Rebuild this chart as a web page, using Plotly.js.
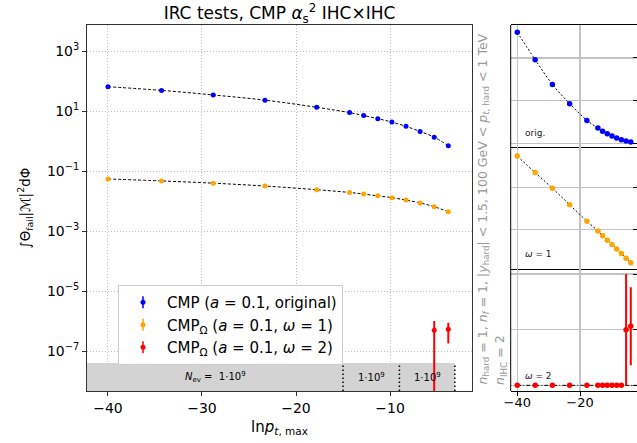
<!DOCTYPE html>
<html>
<head>
<meta charset="utf-8">
<script src="https://cdn.plot.ly/plotly-3.0.1.min.js"></script>
<style>html,body{margin:0;padding:0;background:#fff;}#plot{width:637px;height:443px;}</style>
</head>
<body>
<div id="plot"></div>
<script>
// ---- data ----
const lnpt = [-40, -34.3, -28.8, -23.3, -17.8, -14.3, -12.8, -11.3, -9.8, -8.3, -6.8, -5.3, -3.8];
const cmpOrig = [65, 49, 34.5, 23.2, 13.4, 8.9, 7.1, 5.6, 4.3, 3.1, 2.1, 1.35, 0.7];
const cmpOrigErr = [0, 0, 0, 0, 0, 0, 0, 0, 0, 0, 0, 0, 0];
const cmpW1 = [0.0548, 0.0470, 0.0396, 0.0318, 0.0240, 0.0194, 0.0171, 0.0150, 0.0130, 0.0108, 0.0087, 0.0065, 0.0044];
const cmpW1Err = [0, 0, 0, 0, 0, 0, 0, 0, 0, 0, 0, 0, 0];
const cmpW2 = [0, 0, 0, 0, 0, 0, 0, 0, 0, 0, 0, 5.0e-7, 5.3e-7];
const cmpW2Err = [0, 0, 0, 0, 0, 0, 0, 0, 0, 0, 0, 5.0e-7, 3.5e-7];
// fitted curves (dashed / dotted black lines)
const fitOrig = [65, 49, 34.5, 23.2, 13.4, 8.9, 7.1, 5.6, 4.3, 3.1, 2.1, 1.35, 0.7];
const fitW1 = [0.0548, 0.0470, 0.0396, 0.0318, 0.0240, 0.0194, 0.0171, 0.0150, 0.0130, 0.0108, 0.0087, 0.0065, 0.0044];
const fitW2X = [-40, -1.5];
const fitW2 = [0, 0];
const seriesNames = ['CMP (<i>a</i> = 0.1, original)', 'CMP<sub>Ω</sub> (<i>a</i> = 0.1, <i>ω</i> = 1)', 'CMP<sub>Ω</sub> (<i>a</i> = 0.1, <i>ω</i> = 2)'];
const panelLabels = ['orig.', '<i>ω</i> = 1', '<i>ω</i> = 2'];
const nevEdges = [-42.23, -15, -9, -3.1];
const nevLabels = ['<i>N</i><sub>ev</sub> =  1·10<sup>9</sup>', '1·10<sup>9</sup>', '1·10<sup>9</sup>'];
const mainXTicks = [-40, -30, -20, -10];
const mainYTicks = [1e-7, 1e-5, 1e-3, 1e-1, 1e1, 1e3];
const mainYTickText = ['10<sup>−7</sup>', '10<sup>−5</sup>', '10<sup>−3</sup>', '10<sup>−1</sup>', '10<sup>1</sup>', '10<sup>3</sup>'];
const sideXTicks = [-40, -20];
const captionLines = [
  '<i>n</i><sub>hard</sub> = 1, <i>n</i><sub><i>f</i></sub> = 1, |<i>y</i><sub>hard</sub>| &lt; 1.5, 100 GeV &lt; <i>p</i><sub><i>t</i>, hard</sub> &lt; 1 TeV',
  '<i>n</i><sub>IHC</sub> = 2'
];

const colors = ['#0000ff', '#ffa500', '#ff0000'];
const F = 'DejaVu Sans, sans-serif';
const minus = v => String(v).replace('-', '−');

const traces = [];
// main fit lines
[fitOrig, fitW1].forEach(ys => traces.push({
  x: lnpt, y: ys, mode: 'lines', xaxis: 'x', yaxis: 'y', showlegend: false, hoverinfo: 'skip',
  line: {color: '#000', dash: '3px,2px', width: 1, shape: 'spline'}
}));
// main markers with error bars
[[cmpOrig, cmpOrigErr], [cmpW1, cmpW1Err], [cmpW2, cmpW2Err]].forEach(([ys, es], i) => traces.push({
  x: lnpt, y: ys, mode: 'markers', xaxis: 'x', yaxis: 'y', name: seriesNames[i],
  marker: {color: colors[i], size: 5},
  error_y: {type: 'data', array: es, visible: true, color: colors[i], thickness: 2, width: 0}
}));
// side panels
const sideFits = [[lnpt, fitOrig, '2px,2px'], [lnpt, fitW1, '2px,2px'], [fitW2X, fitW2, '4px,2px,1px,2px']];
[[cmpOrig, cmpOrigErr], [cmpW1, cmpW1Err], [cmpW2, cmpW2Err]].forEach(([ys, es], i) => {
  const xa = 'x' + (i + 2), ya = 'y' + (i + 2);
  traces.push({x: sideFits[i][0], y: sideFits[i][1], mode: 'lines', xaxis: xa, yaxis: ya, showlegend: false, hoverinfo: 'skip',
    line: {color: '#000', dash: sideFits[i][2], width: 1, shape: 'spline'}});
  traces.push({x: lnpt, y: ys, mode: 'markers', xaxis: xa, yaxis: ya, showlegend: false,
    marker: {color: colors[i], size: 5.5},
    error_y: {type: 'data', array: es, visible: true, color: colors[i], thickness: 2, width: 0}});
});

const xMainDom = [87 / 637, 472 / 637];
const yMainDom = [1 - 391 / 443, 1 - 25 / 443];
const xSideDom = [510.7 / 637, 1];
const ySideDoms = [[1 - 147 / 443, 1 - 25 / 443], [1 - 269 / 443, 1 - 147 / 443], [1 - 391 / 443, 1 - 269 / 443]];
const ySideRanges = [[-2.2, 69.3], [0.0014, 0.0591], [-5.1e-8, 1.045e-6]];
const ySideTicks = [[0, 25, 50], [0.02, 0.04], [0, 5e-7, 1e-6]];

const layout = {
  width: 637, height: 443, margin: {l: 0, r: 0, t: 0, b: 0},
  paper_bgcolor: '#fff', plot_bgcolor: '#fff',
  font: {family: F, color: '#000'},
  title: {text: 'IRC tests, CMP <i>α</i><sub>s</sub><sup>2</sup> IHC×IHC', x: 279.5 / 637, xanchor: 'center', y: 1 - 13.5 / 443, yanchor: 'middle', font: {size: 17, family: F}},
  showlegend: true,
  legend: {x: 118 / 637, y: 1 - 285 / 443, xanchor: 'left', yanchor: 'top', bgcolor: 'rgba(255,255,255,0.85)', bordercolor: '#cccccc', borderwidth: 1, font: {size: 15, family: F}, itemwidth: 38},
  xaxis: {domain: xMainDom, anchor: 'y', range: [-42.23, -1.28], tickvals: mainXTicks, ticktext: mainXTicks.map(minus),
    ticks: 'outside', ticklen: 4, tickcolor: '#333', showline: true, mirror: true, linecolor: '#333', linewidth: 1,
    showgrid: true, gridcolor: '#bdbdbd', griddash: '1px,2px', gridwidth: 1, zeroline: false, tickfont: {size: 14},
    title: {text: 'ln<i>p</i><sub><i>t</i>, max</sub>', font: {size: 15}, standoff: 6}},
  yaxis: {domain: yMainDom, anchor: 'x', type: 'log', range: [-8.33, 3.87], tickvals: mainYTicks, ticktext: mainYTickText,
    ticks: 'outside', ticklen: 4, tickcolor: '#333', showline: true, mirror: true, linecolor: '#333', linewidth: 1,
    showgrid: true, gridcolor: '#bdbdbd', griddash: '1px,2px', gridwidth: 1, zeroline: false, tickfont: {size: 14},
    title: {text: '∫Θ<sub>fail</sub>|ℳ|<sup>2</sup>dΦ', font: {size: 13.5}, standoff: 13}},
  shapes: [], annotations: []
};

for (let i = 0; i < 3; i++) {
  const n = i + 2;
  layout['xaxis' + n] = {domain: xSideDom, anchor: 'y' + n, range: [-42.1, -1.82], tickvals: sideXTicks, ticktext: sideXTicks.map(minus),
    showticklabels: i === 2, ticks: 'outside', ticklen: 3.5, tickcolor: '#000', showline: true, mirror: i === 0, linecolor: '#000', linewidth: 1,
    showgrid: true, gridcolor: '#c4c4c4', gridwidth: 1.2, zeroline: false, tickfont: {size: 13}};
  layout['yaxis' + n] = {domain: ySideDoms[i], anchor: 'x' + n, side: 'right', range: ySideRanges[i], tickvals: ySideTicks[i],
    showticklabels: false, ticks: 'inside', ticklen: 4, tickcolor: '#000', showline: false,
    showgrid: true, gridcolor: '#c4c4c4', gridwidth: 1.2, zeroline: false};
  layout.shapes.push({type: 'line', xref: 'x' + n + ' domain', yref: 'y' + n + ' domain', x0: 0, x1: 0, y0: 0, y1: 1, line: {color: '#000', width: 1}});
  layout.annotations.push({xref: 'paper', yref: 'paper', x: 523 / 637, y: [1 - 133 / 443, 1 - 254 / 443, 1 - 375.5 / 443][i],
    xanchor: 'left', yanchor: 'middle', text: panelLabels[i], showarrow: false, font: {size: 9, color: '#222'}});
}
layout.xaxis4.ticklabelstandoff = -4;

// N_ev band
const yBandLo = Math.pow(10, -8.33), yBandHi = Math.pow(10, -7.4);
layout.shapes.push({type: 'rect', xref: 'x', yref: 'y', x0: nevEdges[0], x1: nevEdges[nevEdges.length - 1], y0: yBandLo, y1: yBandHi,
  fillcolor: '#d3d3d3', line: {width: 0}, layer: 'between'});
for (let k = 1; k < nevEdges.length; k++) {
  layout.shapes.push({type: 'line', xref: 'x', yref: 'y', x0: nevEdges[k], x1: nevEdges[k], y0: yBandLo, y1: yBandHi,
    line: {color: '#000', width: 1.5, dash: '1.5px,2.5px'}, layer: 'between'});
}
for (let k = 0; k < nevLabels.length; k++) {
  layout.annotations.push({xref: 'x', yref: 'y', x: (nevEdges[k] + nevEdges[k + 1]) / 2, y: -7.865, text: nevLabels[k],
    showarrow: false, xanchor: 'center', yanchor: 'middle', font: {size: 10, color: '#000'}});
}

// side caption (rotated, bottom-aligned)
[483, 500].forEach((px, k) => layout.annotations.push({xref: 'paper', yref: 'paper', x: px / 637, y: 1 - 387 / 443, textangle: -90,
  showarrow: false, xanchor: 'center', yanchor: 'bottom', font: {size: 12.5, color: '#999999'}, text: captionLines[k]}));

const gd = document.getElementById('plot');
Plotly.newPlot(gd, traces, layout, {displayModeBar: false, staticPlot: true}).then(() => {
  // add the vertical error-bar stroke to each legend glyph
  gd.querySelectorAll('.legend .traces').forEach(tr => {
    const pts = tr.querySelector('path.scatterpts');
    if (!pts) return;
    const col = pts.style.fill || '#000';
    const p = document.createElementNS('http://www.w3.org/2000/svg', 'path');
    p.setAttribute('d', 'M0,-6V6');
    const tf = pts.getAttribute('transform');
    if (tf) p.setAttribute('transform', tf);
    p.setAttribute('style', 'stroke:' + col + ';stroke-width:1.5;fill:none');
    pts.parentNode.insertBefore(p, pts);
  });
});
</script>
</body>
</html>
